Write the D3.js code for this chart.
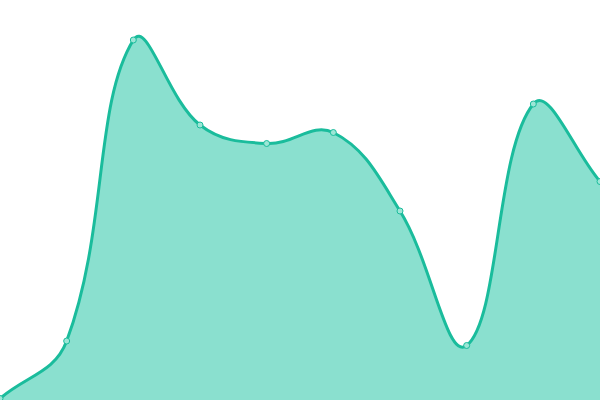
<!DOCTYPE html>
<html>
<head>
<meta charset="utf-8">
<script src="https://cdn.jsdelivr.net/npm/d3@7"></script>
<style>
  html, body { margin: 0; padding: 0; background: #fff; }
  svg { display: block; }
</style>
</head>
<body>
<div id="chart"></div>
<script>
    "use strict";

    // one value per slot
    var categories = [0, 1, 2, 3, 4, 5, 6, 7, 8, 9]
    var values = [1.5, 59, 360, 275, 256.5, 267.5, 189, 54.5, 296, 218.5]

    var width = 600
    var height = 400
    var tension = 0.4
    var lineColor = "#1abc9c"
    var areaColor = "#8ae0cf"

    // spline with tension, control points weighted by segment length
    // and capped to the drawing area
    function curveTension(context) {
        return new TensionCurve(context)
    }

    function TensionCurve(context) {
        this._context = context
    }

    TensionCurve.prototype = {
        areaStart: function() { this._line = 0 },
        areaEnd: function() { this._line = NaN },
        lineStart: function() { this._px = []; this._py = [] },
        point: function(x, y) { this._px.push(+x); this._py.push(+y) },
        lineEnd: function() {
            var px = this._px, py = this._py, n = px.length
            var ctx = this._context
            var cp = []
            var cap = function(v, lo, hi) { return Math.max(lo, Math.min(hi, v)) }
            for (var i = 0; i < n; i++) {
                var pi = i > 0 ? i - 1 : i
                var ni = i < n - 1 ? i + 1 : i
                var d01 = Math.hypot(px[i] - px[pi], py[i] - py[pi])
                var d12 = Math.hypot(px[ni] - px[i], py[ni] - py[i])
                var s01 = d01 / (d01 + d12), s12 = d12 / (d01 + d12)
                if (isNaN(s01)) s01 = 0
                if (isNaN(s12)) s12 = 0
                var vx = px[ni] - px[pi], vy = py[ni] - py[pi]
                cp.push({
                    px: cap(px[i] - tension * s01 * vx, 0, width),
                    py: cap(py[i] - tension * s01 * vy, 0, height),
                    nx: cap(px[i] + tension * s12 * vx, 0, width),
                    ny: cap(py[i] + tension * s12 * vy, 0, height)
                })
            }
            if (n) {
                this._line ? ctx.lineTo(px[0], py[0]) : ctx.moveTo(px[0], py[0])
                for (var j = 1; j < n; j++) {
                    ctx.bezierCurveTo(cp[j - 1].nx, cp[j - 1].ny,
                        cp[j].px, cp[j].py, px[j], py[j])
                }
            }
            if (this._line || (this._line !== 0 && n === 1)) ctx.closePath()
            this._line = 1 - this._line
        }
    }

    var x = d3.scaleLinear()
        .domain(d3.extent(categories))
        .range([0, width])
    var y = d3.scaleLinear()
        .domain([0, 400])
        .range([height, 0])

    var data = categories.map(function(c, i) {
        return { c: c, v: values[i] }
    })

    var svg = d3.select("#chart").append("svg")
        .attr("width", width)
        .attr("height", height)

    var area = d3.area()
        .curve(curveTension)
        .x(function(d) { return x(d.c) })
        .y0(height)
        .y1(function(d) { return y(d.v) })

    var line = d3.line()
        .curve(curveTension)
        .x(function(d) { return x(d.c) })
        .y(function(d) { return y(d.v) })

    svg.append("path")
        .datum(data)
        .attr("d", area)
        .style("fill", areaColor)

    svg.append("path")
        .datum(data)
        .attr("d", line)
        .style("fill", "none")
        .style("stroke", lineColor)
        .style("stroke-width", 3)

    svg.selectAll("circle.dot")
        .data(data)
        .enter().append("circle")
        .attr("class", "dot")
        .attr("cx", function(d) { return x(d.c) })
        .attr("cy", function(d) { return y(d.v) })
        .attr("r", 3)
        .style("fill", "#9ce6d6")
        .style("stroke", lineColor)
        .style("stroke-width", 1)
</script>
</body>
</html>
